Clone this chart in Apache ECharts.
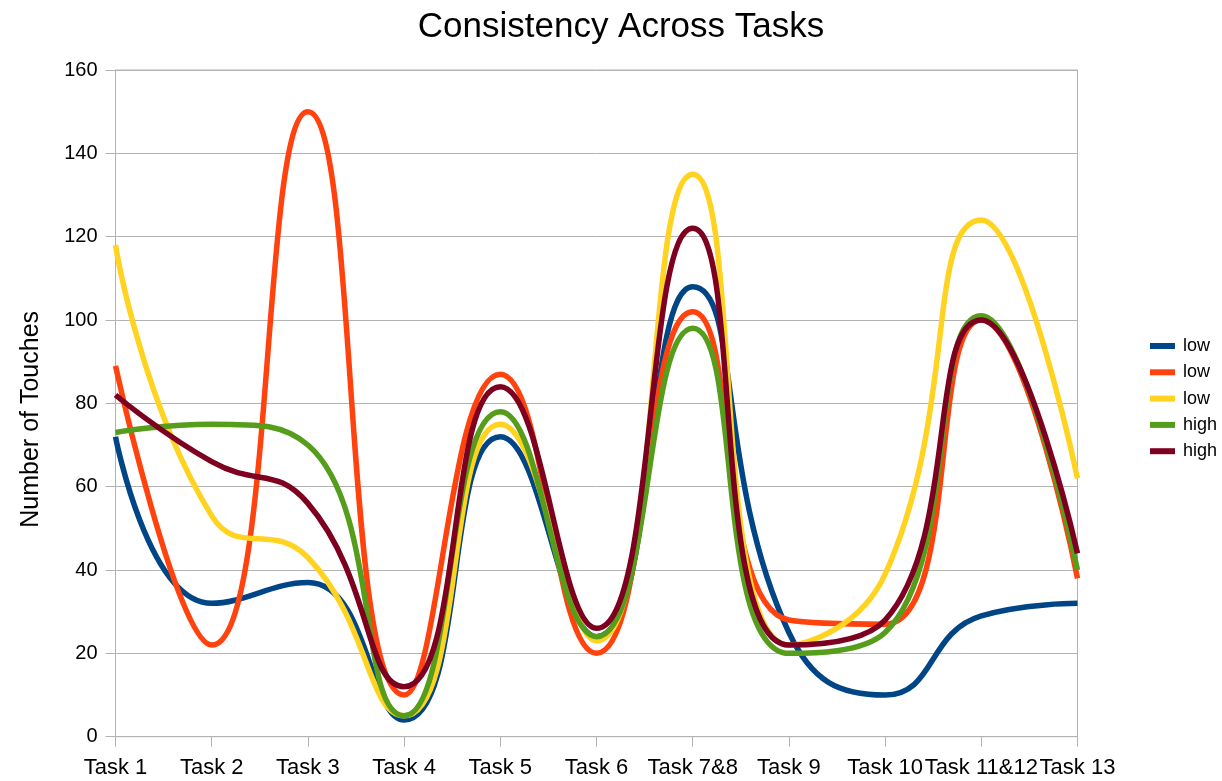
<!DOCTYPE html>
<html>
<head>
<meta charset="utf-8">
<script src="https://cdn.jsdelivr.net/npm/echarts@6/dist/echarts.min.js"></script>
<style>
html,body{margin:0;padding:0;background:#fff;}
#chart{width:1222px;height:781px;}
</style>
</head>
<body>
<div id="chart"></div>
<script>
var categories = ['Task 1','Task 2','Task 3','Task 4','Task 5','Task 6','Task 7&8','Task 9','Task 10','Task 11&12','Task 13'];
var seriesNames = ['low','low','low','high','high'];
var lowA  = [72, 32, 37, 4, 72, 24, 108, 25, 10, 29, 32];
var lowB  = [89, 22, 150, 10, 87, 20, 102, 28, 27, 100, 38];
var lowC  = [118, 53, 43, 5, 75, 23, 135, 22, 39, 124, 62];
var highA = [73, 75, 70, 5, 78, 24, 98, 20, 25, 101, 40];
var highB = [82, 66, 56, 12, 84, 26, 122, 22, 28, 100, 44];
var yTicks = {min: 0, max: 160, interval: 20};
var colors = ['#004586','#ff420e','#ffd320','#579d1c','#7e0021'];

var dataSets = [lowA, lowB, lowC, highA, highB];
var chart = echarts.init(document.getElementById('chart'));
var font = 'Liberation Sans';
var legendData = [];
var series = dataSets.map(function(d, i){
  // zero-width spaces keep the repeated legend names distinct
  var nm = seriesNames[i] + '\u200B'.repeat(i);
  legendData.push({name: nm});
  return {
    name: nm,
    type: 'line',
    data: d,
    smooth: 0.5,
    symbol: 'none',
    lineStyle: {width: 5.5, color: colors[i]},
    itemStyle: {color: colors[i]},
    clip: true
  };
});
chart.setOption({
  animation: false,
  color: colors,
  textStyle: {fontFamily: font},
  title: {
    text: 'Consistency Across Tasks',
    left: 616, top: 5, textAlign: 'center',
    textStyle: {fontFamily: font, fontSize: 35, fontWeight: 'normal', color: '#000'}
  },
  legend: {
    orient: 'vertical',
    left: 1150, top: 337, padding: 0,
    itemWidth: 25, itemHeight: 6, itemGap: 8.3,
    icon: 'rect',
    data: legendData,
    textStyle: {fontFamily: font, fontSize: 18, color: '#000', padding: [0, 0, 0, 3]}
  },
  grid: {left: 115.5, right: 144.5, top: 70, bottom: 44.3, show: true, borderColor: '#b3b3b3', borderWidth: 1},
  xAxis: {
    type: 'category',
    data: categories,
    boundaryGap: false,
    axisLine: {lineStyle: {color: '#b3b3b3', width: 1}},
    axisTick: {show: true, length: 10, lineStyle: {color: '#b3b3b3'}},
    axisLabel: {fontFamily: font, fontSize: 22, color: '#000', margin: 20, interval: 0},
    splitLine: {show: false}
  },
  yAxis: {
    type: 'value',
    min: yTicks.min, max: yTicks.max, interval: yTicks.interval,
    name: 'Number of Touches',
    nameLocation: 'middle',
    nameGap: 72,
    nameRotate: 90,
    nameTextStyle: {fontFamily: font, fontSize: 25, color: '#000', padding: [0, 32, 0, 0]},
    axisLine: {show: true, lineStyle: {color: '#b3b3b3', width: 1}},
    axisTick: {show: true, length: 10, lineStyle: {color: '#b3b3b3'}},
    axisLabel: {fontFamily: font, fontSize: 20, color: '#000', margin: 18},
    splitLine: {show: true, lineStyle: {color: '#b3b3b3', width: 1}}
  },
  series: series
});
</script>
</body>
</html>
